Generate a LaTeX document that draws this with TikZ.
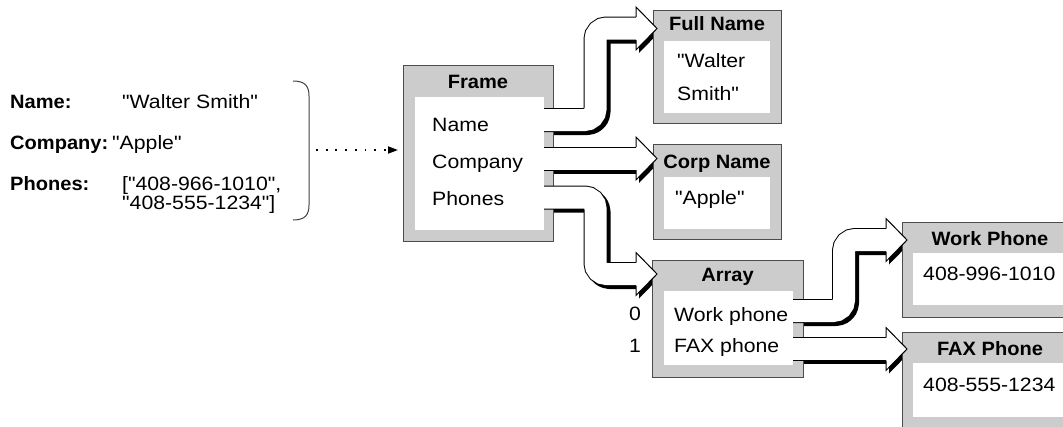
\documentclass[tikz,border=0pt]{standalone}
\usepackage{fontspec}
\setmainfont{Liberation Sans}[Ligatures=TeXOff, FakeStretch=1.1, BoldFeatures={FakeStretch=1.04}]
\usetikzlibrary{arrows.meta}
\pgfdeclarelayer{shadow}
\pgfsetlayers{shadow,main}

% Fat 3-D arrow: #1 shaft route (ends at the head base), #2 head base x, #3 tip x, #4 head y
\newcommand{\fatarrow}[4]{%
  \begin{pgfonlayer}{shadow}
    \begin{scope}[shift={(3,3)}]
      \draw[line width=24, line join=round, rounded corners=11] #1;
      \fill (#2,{#4-21.5}) -- (#3,#4) -- (#2,{#4+21.5}) -- cycle;
    \end{scope}
  \end{pgfonlayer}
  \draw[line width=1, double=white, double distance=22, rounded corners=11] #1;
  \filldraw[fill=white, line width=1, line join=miter]
    (#2,{#4-11.5}) -- (#2,{#4-21.5}) -- (#3,#4) -- (#2,{#4+21.5}) -- (#2,{#4+11.5});
}

\tikzset{
  box/.style={draw=black!70, fill=black!20, line width=1, inner sep=0, outer sep=0, anchor=north west},
  pane/.style={fill=white, inner sep=0, outer sep=0, anchor=north west},
  txt/.style={font=\fontsize{19.3}{22}\selectfont, inner sep=0, anchor=base west},
  key/.style={txt, font=\fontsize{19.3}{22}\selectfont\bfseries},
  ttl/.style={font=\fontsize{19.3}{22}\selectfont\bfseries, inner sep=0, anchor=base},
  idx/.style={font=\fontsize{19.3}{22}\selectfont, inner sep=0, anchor=base},
}

\begin{document}
\begin{tikzpicture}[x=1pt, y=-1pt]
\useasboundingbox (0,0) rectangle (1063,426);
\clip (0,0) rectangle (1063,426);

% ---- record on the left ----
\node[key] (kName)  at (10,108)   {Name:};
\node[txt] (vName)  at (122,108)  {"Walter Smith"};
\node[key] (kComp)  at (10,149.5) {Company:};
\node[txt] (vComp)  at (112,149.5) {"Apple"};
\node[key] (kPhone) at (10,190)   {Phones:};
\node[txt] (vPhA)   at (122,190)  {["408-966-1010",};
\node[txt] (vPhB)   at (122,209)  {"408-555-1234"]};

% closing bracket
\draw[line width=1, black!75] (293,81) .. controls (305,81) and (309,86) .. (309,96)
  -- (309,205) .. controls (309,215) and (305,220) .. (293,220);
\coordinate (recOut) at (316,150);

% ---- boxes ----
\node[box,  minimum width=150, minimum height=176] (frame)   at (403,65)  {};
\node[pane, minimum width=129, minimum height=133] (frameIn) at (415,97)  {};
\node[box,  minimum width=128, minimum height=113] (full)    at (653,10)  {};
\node[pane, minimum width=106, minimum height=72]  (fullIn)  at (664,41)  {};
\node[box,  minimum width=128, minimum height=95]  (corp)    at (653,144) {};
\node[pane, minimum width=106, minimum height=52]  (corpIn)  at (664,177) {};
\node[box,  minimum width=151, minimum height=117] (array)   at (652,260) {};
\node[pane, minimum width=129, minimum height=74]  (arrayIn) at (664,291) {};
\node[box,  minimum width=176, minimum height=95]  (work)    at (902,222) {};
\node[pane, minimum width=154, minimum height=52]  (workIn)  at (913,253) {};
\node[box,  minimum width=176, minimum height=108] (fax)     at (902,332) {};
\node[pane, minimum width=154, minimum height=54]  (faxIn)   at (913,363) {};

% dotted link from the record to the frame
\draw[line width=1.8, dash pattern=on 1.8 off 7.9, shorten >=5,
      -{Triangle[length=10,width=7]}] (recOut) -- (frame.west |- recOut);

% ---- fat arrows ----
\fatarrow{(544,120) -- (595.5,120) -- (595.5,28.5) -- (636,28.5)}{636}{657}{28.5}
\fatarrow{(544,158.5) -- (636,158.5)}{636}{657}{158.5}
\fatarrow{(544,197.5) -- (595.5,197.5) -- (595.5,274) -- (636,274)}{636}{657}{274}
\fatarrow{(793,311) -- (844,311) -- (844,240) -- (886,240)}{886}{907}{240}
\fatarrow{(793,349) -- (886,349)}{886}{907}{349}

% ---- titles ----
\node[ttl] (frameT) at (478,88.3)  {Frame};
\node[ttl] (fullT)  at (717,30)    {Full Name};
\node[ttl] (corpT)  at (717,168.5) {Corp Name};
\node[ttl] (arrayT) at (727.5,281.5) {Array};
\node[ttl] (workT)  at (990,245)   {Work Phone};
\node[ttl] (faxT)   at (990,355)   {FAX Phone};

% ---- contents ----
\node[txt] (fName)  at (432,131.5) {Name};
\node[txt] (fComp)  at (432,168.5) {Company};
\node[txt] (fPhone) at (432,205)   {Phones};
\node[txt] (fullA)  at (677,67)    {"Walter};
\node[txt] (fullB)  at (677,100)   {Smith"};
\node[txt] (corpV)  at (675,204)   {"Apple"};
\node[txt] (aWork)  at (674,321)   {Work phone};
\node[txt] (aFax)   at (674,352.5) {FAX phone};
\node[idx] (i0)     at (635,320.7) {0};
\node[idx] (i1)     at (635,352.7) {1};
\node[txt] (workV)  at (923,280)   {408-996-1010};
\node[txt] (faxV)   at (923,391.7) {408-555-1234};
\end{tikzpicture}
\end{document}
